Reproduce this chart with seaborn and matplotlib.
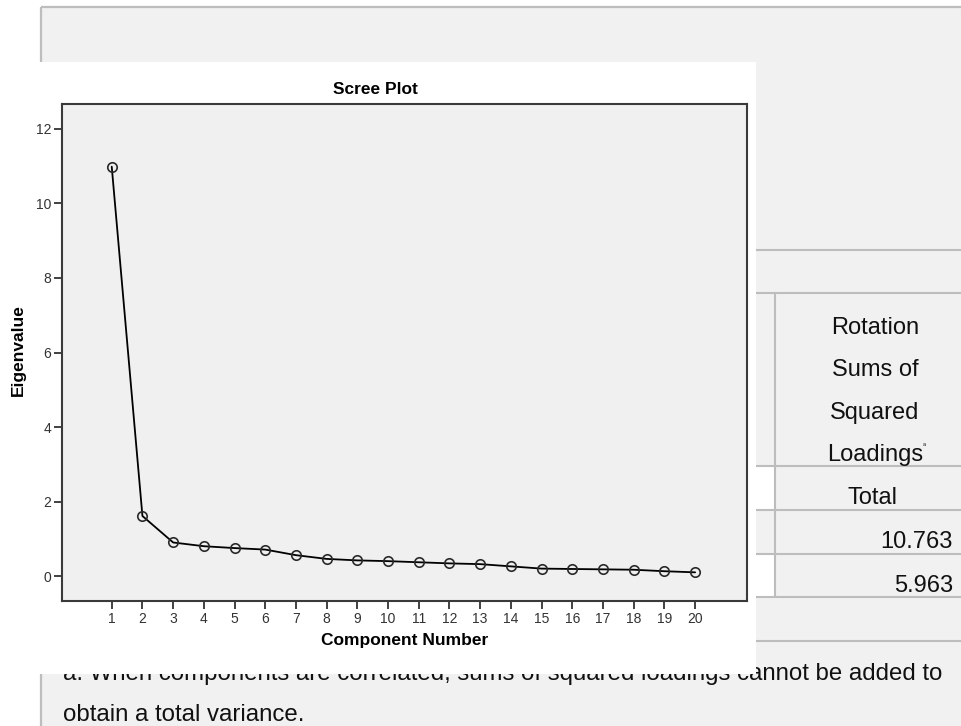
import matplotlib
matplotlib.use("Agg")
import matplotlib.pyplot as plt
from matplotlib import font_manager
from matplotlib.patches import Rectangle
import pandas as pd
import seaborn as sns

# Scree plot data: eigenvalue of each extracted component
components = list(range(1, 21))
eigenvalues = [10.98, 1.62, 0.91, 0.81, 0.76, 0.72, 0.57, 0.47, 0.43, 0.41,
               0.38, 0.35, 0.33, 0.27, 0.21, 0.20, 0.19, 0.18, 0.14, 0.11]
eigen_ticks = [0, 2, 4, 6, 8, 10, 12]

# Table column behind the chart
rotation_header = ["Rotation", "Sums of", "Squared", "Loadings"]
rotation_column = "Total"
rotation_totals = [10.763, 5.963]
footnote = ["a. When components are correlated, sums of squared loadings cannot be added to",
            "obtain a total variance."]

W, H = 961, 726
sns.set_theme(style="white")
plt.rcParams["font.family"] = ["Liberation Sans", "DejaVu Sans"]
installed = {f.name for f in font_manager.fontManager.ttflist}
chart_font = "Liberation Sans Narrow" if "Liberation Sans Narrow" in installed else "Liberation Sans"

fig = plt.figure(figsize=(W / 100, H / 100), dpi=100)
fig.patch.set_facecolor("white")

# Page layer in pixel coordinates (origin top-left)
page = fig.add_axes([0, 0, 1, 1])
page.set_xlim(0, W)
page.set_ylim(H, 0)
page.axis("off")

TABLE_BG = "#f1f1f1"
RULE = "#bdbdbd"
page.add_patch(Rectangle((41, 7), W - 41, H - 7, facecolor=TABLE_BG, edgecolor="none", zorder=1))
page.add_patch(Rectangle((756, 466), 19, 44, facecolor="white", edgecolor="none", zorder=1.5))
page.add_patch(Rectangle((756, 554), 19, 43, facecolor="white", edgecolor="none", zorder=1.5))
page.plot([41, W], [7, 7], color=RULE, lw=1.6, zorder=2, solid_capstyle="butt")
page.plot([41, 41], [7, H], color=RULE, lw=1.6, zorder=2, solid_capstyle="butt")
for yy in [250, 293, 466, 510, 554, 597, 641]:
    page.plot([756, W], [yy, yy], color=RULE, lw=1.5, zorder=2, solid_capstyle="butt")
page.plot([775, 775], [293, 597], color=RULE, lw=1.5, zorder=2, solid_capstyle="butt")

TXT = 17
for line, base in zip(rotation_header, [333.5, 376.5, 418.5, 460.5]):
    page.text(875, base, line, ha="center", va="baseline", fontsize=TXT, color="#111111", zorder=3)
page.text(923, 446, "a", ha="left", va="baseline", fontsize=4, color="#111111", zorder=3)
page.text(872, 503.5, rotation_column, ha="center", va="baseline", fontsize=TXT, color="#111111", zorder=3)
for val, base in zip(rotation_totals, [548.5, 592.5]):
    page.text(953, base, f"{val:.3f}", ha="right", va="baseline", fontsize=TXT, color="#111111", zorder=3)
for line, base in zip(footnote, [680, 721]):
    page.text(63, base, line, ha="left", va="baseline", fontsize=17.3, color="#111111", zorder=3)

# White chart card pasted over the table
page.add_patch(Rectangle((0, 62), 756, 612, facecolor="white", edgecolor="none", zorder=5))
page.text(375, 89, "Scree Plot", ha="center", va="center", fontsize=12.5, fontweight="bold",
          family=chart_font, color="black", zorder=6)
page.text(404.5, 641, "Component Number", ha="center", va="center", fontsize=12.5, fontweight="bold",
          family=chart_font, color="black", zorder=6)
page.text(18, 350, "Eigenvalue", ha="center", va="center", rotation=90, fontsize=12.5,
          fontweight="bold", family=chart_font, color="black", zorder=6)

# Plot area
left, right, top, bottom = 62.3, 746.7, 104, 600.7
ax = fig.add_axes([left / W, 1 - bottom / H, (right - left) / W, (bottom - top) / H])
df = pd.DataFrame({"Component": components, "Eigenvalue": eigenvalues})
sns.lineplot(data=df, x="Component", y="Eigenvalue", ax=ax, color="black", lw=1.3,
             marker="o", markersize=6.8, markerfacecolor="none",
             markeredgecolor="#2a2a2a", markeredgewidth=1.2)
ax.set_facecolor("#f0f0f0")
ax.set_xlim(-0.61, 21.68)
ax.set_ylim(-0.65, 12.66)
ax.set_xticks(components)
ax.set_yticks(eigen_ticks)
ax.set_xlabel("")
ax.set_ylabel("")
for s in ax.spines.values():
    s.set_color("#3a3a3a")
    s.set_linewidth(1.5)
ax.tick_params(direction="out", length=6, width=1.3, color="#333333", labelsize=10,
               labelcolor="#333333", pad=2, bottom=True, left=True)
for lab in ax.get_xticklabels() + ax.get_yticklabels():
    lab.set_family(chart_font)

fig.savefig("out.png", dpi=100, facecolor="white")
